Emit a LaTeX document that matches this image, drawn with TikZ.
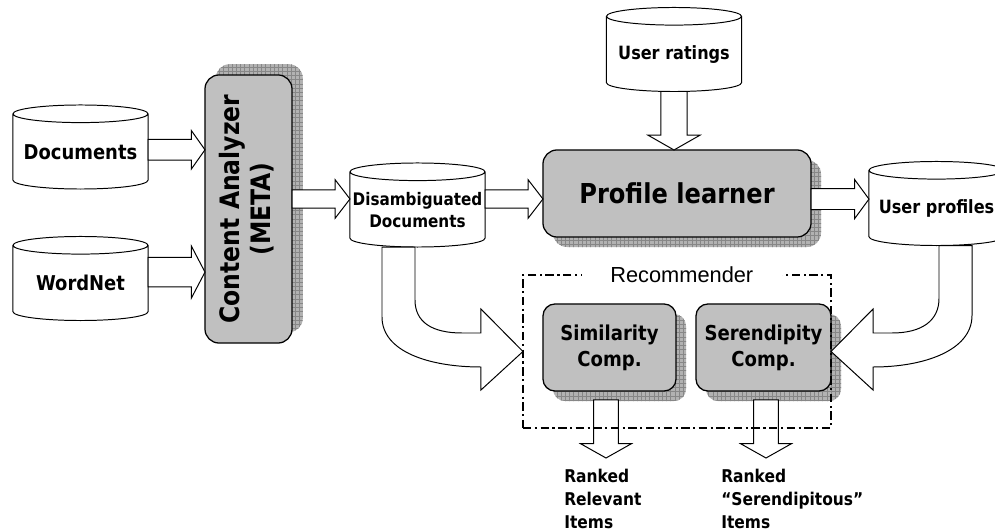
\documentclass[tikz,border=0pt]{standalone}
\usepackage{fontspec}
\usepackage{graphicx}
\setmainfont{DejaVu Sans}[FakeStretch=0.88]
\newfontfamily\arialfont{Liberation Sans}
\usetikzlibrary{positioning, calc, patterns}
\definecolor{boxgray}{RGB}{192,192,192}
\definecolor{shadegray}{RGB}{178,178,178}
\definecolor{gridgray}{RGB}{135,135,135}

\begin{document}
\begin{tikzpicture}[
        x=0.025cm, y=0.025cm,
        db/.style={minimum width=3.375cm, minimum height=2.1cm, inner sep=0pt, outer sep=0pt, align=center, font=\bfseries\fontsize{13}{15.5}\selectfont},
        dbline/.style={draw, line width=0.7pt, transform canvas={yshift=0.12cm}},
        box/.style={draw, line width=0.9pt, fill=boxgray, rounded corners=0.35cm, outer sep=0pt, align=center},
        boxshadow/.style 2 args={preaction={fill=shadegray, draw=none, transform canvas={xshift=#1, yshift=#2}},
            preaction={pattern=grid, pattern color=gridgray, draw=none, transform canvas={xshift=#1, yshift=#2}}},
        fat/.style n args={3}{draw, fill=white, line width=0.7pt, to path={
            let \p1=(\tikztostart), \p2=(\tikztotarget), \p3=($(\p2)!#3!(\p1)$) in
            ($(\p1)!#1!90:(\p2)$) -- ($(\p3)!#1!90:(\p2)$) -- ($(\p3)!#2!90:(\p2)$) -- (\p2)
            -- ($(\p3)!#2!-90:(\p2)$) -- ($(\p3)!#1!-90:(\p2)$) -- ($(\p1)!#1!-90:(\p2)$) -- cycle}},
        bigarrow/.style={draw, fill=white, line width=0.7pt},
        recbox/.style={draw, line width=1pt, dash pattern=on 6pt off 2.5pt on 1.5pt off 2.5pt, outer sep=0pt, inner sep=0pt},
        outlbl/.style={align=left, inner sep=0pt, font=\bfseries\fontsize{12.5}{16.4}\selectfont},
    ]
        \useasboundingbox (0,0) rectangle (995,-531);

        % data stores (outline drawn a little above the text)
        \node[db, font=\bfseries\fontsize{14.5}{17}\selectfont] (docs) at (80.5,-151.8) {Documents};
        \node[db, font=\bfseries\fontsize{14.5}{17}\selectfont] (wn) at (80.5,-283.3) {WordNet};
        \node[db, font=\bfseries\fontsize{12.3}{15.5}\selectfont] (dis) at (417.5,-209.8) {Disambiguated\\Documents};
        \node[db] (rat) at (674,-54.3) {User ratings};
        \node[db] (prof) at (936.5,-208.3) {User profiles};
        \foreach \n in {docs,wn,dis,rat,prof} {
            \draw[dbline] ([yshift=-0.22cm]\n.north west) -- ([yshift=0.22cm]\n.south west)
                arc[start angle=180, end angle=360, x radius=1.6875cm, y radius=0.22cm]
                -- ([yshift=-0.22cm]\n.north east)
                arc[start angle=0, end angle=360, x radius=1.6875cm, y radius=0.22cm];
        }

        % components
        \node[box, boxshadow={0.27cm}{0.27cm}, minimum width=2.175cm, minimum height=6.7cm,
            font=\bfseries\fontsize{19}{22}\selectfont] (ca) at (248.5,-209)
            {\rotatebox{90}{\begin{tabular}{@{}c@{}}Content Analyzer\\(META)\end{tabular}}};
        \node[box, boxshadow={0.25cm}{-0.25cm}, minimum width=6.7cm, minimum height=2.175cm,
            font=\bfseries\fontsize{19.5}{23}\selectfont] (pl) at (677,-193.5) {Profile learner};
        \node[box, boxshadow={0.25cm}{-0.25cm}, rounded corners=0.3cm, minimum width=3.325cm, minimum height=2.175cm,
            font=\bfseries\fontsize{14.6}{18.5}\selectfont] (sim) at (609.5,-347.5) {Similarity\\Comp.};
        \node[box, boxshadow={0.25cm}{-0.25cm}, rounded corners=0.3cm, minimum width=3.375cm, minimum height=2.175cm,
            font=\bfseries\fontsize{14.6}{18.5}\selectfont] (ser) at (763.5,-347.5) {Serendipity\\Comp.};

        % straight flows
        \draw[fat={0.26cm}{0.48cm}{0.34cm}] ([yshift=0.05cm]docs.east) to ([yshift=0.05cm]docs.east -| ca.west);
        \draw[fat={0.37cm}{0.65cm}{0.34cm}] ([yshift=0.28cm]wn.east) to ([yshift=0.28cm]wn.east -| ca.west);
        \draw[fat={0.23cm}{0.48cm}{0.37cm}] ([yshift=0.27cm]dis.west -| ca.east) to ([yshift=0.27cm]dis.west);
        \draw[fat={0.23cm}{0.48cm}{0.37cm}] ([yshift=0.27cm]dis.east) to ([yshift=0.27cm]dis.east -| pl.west);
        \draw[fat={0.26cm}{0.49cm}{0.36cm}] ([yshift=0.23cm]prof.west -| pl.east) to ([yshift=0.23cm]prof.west);
        \draw[fat={0.33cm}{0.65cm}{0.37cm}] ([yshift=0.12cm]rat.south) to (rat.south |- pl.north);

        % outputs
        \coordinate (o1) at (606,-458);
        \coordinate (o2) at (766,-458);
        \draw[fat={0.31cm}{0.64cm}{0.36cm}] ([yshift=-0.22cm]o1 |- sim.south) to (o1);
        \draw[fat={0.31cm}{0.64cm}{0.36cm}] ([yshift=-0.22cm]o2 |- ser.south) to (o2);
        \node[outlbl, anchor=north west] (rel) at (564,-469) {Ranked\\Relevant\\Items};
        \node[outlbl, anchor=north west] (srp) at (721,-469) {Ranked\\“Serendipitous”\\Items};

        % recommender
        \node[recbox, minimum width=7.7cm, minimum height=3.825cm] (rec) at (677,-351.5) {};
        \node[fill=white, inner xsep=0.72cm, inner ysep=1pt, font=\arialfont\fontsize{15.5}{18}\selectfont]
            (reclbl) at ([xshift=0.12cm]rec.north) {Recommender};

        % bent flows into the recommender
        \draw[bigarrow] ([shift={(-35.5,4.8)}]dis.south) -- ([shift={(-35.5,-65.2)}]dis.south)
            .. controls ([shift={(-35.5,-100.2)}]dis.south) and ([shift={(-93,-15.5)}]rec.west) .. ([shift={(-42,-15.5)}]rec.west)
            -- ([shift={(-42,-38.5)}]rec.west) -- (rec.west) -- ([shift={(-42,42.5)}]rec.west)
            -- ([shift={(-42,18.5)}]rec.west) -- ([shift={(-61,18.5)}]rec.west)
            .. controls ([shift={(-91,18.5)}]rec.west) and ([shift={(-2.5,-70.2)}]dis.south) .. ([shift={(-2.5,-48.2)}]dis.south)
            -- ([shift={(-2.5,4.8)}]dis.south) -- cycle;
        \draw[bigarrow] ([shift={(35.5,4.8)}]prof.south) -- ([shift={(35.5,-65.2)}]prof.south)
            .. controls ([shift={(35.5,-100.2)}]prof.south) and ([shift={(93,-15.5)}]rec.east) .. ([shift={(42,-15.5)}]rec.east)
            -- ([shift={(42,-38.5)}]rec.east) -- (rec.east) -- ([shift={(42,42.5)}]rec.east)
            -- ([shift={(42,18.5)}]rec.east) -- ([shift={(61,18.5)}]rec.east)
            .. controls ([shift={(91,18.5)}]rec.east) and ([shift={(2.5,-70.2)}]prof.south) .. ([shift={(2.5,-48.2)}]prof.south)
            -- ([shift={(2.5,4.8)}]prof.south) -- cycle;
    \end{tikzpicture}
\end{document}
